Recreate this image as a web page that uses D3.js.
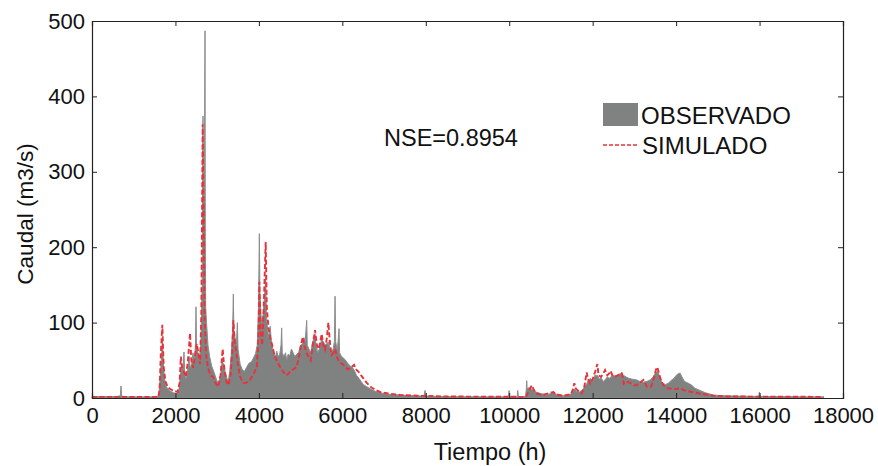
<!DOCTYPE html>
<html>
<head>
<meta charset="utf-8">
<script src="https://cdn.jsdelivr.net/npm/d3@7"></script>
<style>
  body { margin: 0; background: #fff; }
  svg text { font-family: "Liberation Sans", Arial, sans-serif; fill: #111; }
</style>
</head>
<body>
<svg id="chart" width="878" height="466"></svg>
<script>
// observed flow (hours, m3/s)
const obsHours = [0, 600, 680, 695, 710, 760, 1550, 1600, 1640, 1670, 1690, 1710, 1740, 1780, 1850, 1950, 2030, 2080, 2120, 2150, 2175, 2205, 2225, 2260, 2300, 2330, 2355, 2390, 2420, 2450, 2480, 2493, 2505, 2540, 2580, 2610, 2640, 2660, 2670, 2690, 2709, 2716, 2725, 2745, 2780, 2820, 2870, 2920, 2980, 3030, 3080, 3120, 3150, 3190, 3240, 3268, 3300, 3340, 3370, 3388, 3400, 3430, 3460, 3484, 3500, 3550, 3600, 3650, 3700, 3760, 3820, 3860, 3920, 3960, 3990, 4011, 4025, 4060, 4100, 4130, 4163, 4180, 4210, 4240, 4270, 4300, 4350, 4400, 4427, 4460, 4500, 4530, 4546, 4560, 4600, 4640, 4666, 4700, 4740, 4780, 4820, 4860, 4906, 4950, 5000, 5050, 5080, 5110, 5146, 5160, 5200, 5242, 5280, 5320, 5345, 5370, 5410, 5450, 5480, 5505, 5540, 5585, 5620, 5665, 5700, 5740, 5780, 5810, 5825, 5840, 5880, 5921, 5935, 5980, 6025, 6080, 6140, 6200, 6250, 6300, 6340, 6400, 6450, 6500, 6585, 6680, 6784, 6903, 7100, 7383, 7700, 7960, 7982, 8000, 8400, 9000, 9980, 9996, 10010, 10190, 10204, 10220, 10390, 10410, 10419, 10430, 10480, 10530, 10580, 10640, 10750, 10900, 11000, 11058, 11120, 11250, 11400, 11500, 11560, 11600, 11680, 11737, 11800, 11857, 11900, 11950, 12000, 12050, 12113, 12160, 12200, 12250, 12297, 12350, 12400, 12432, 12480, 12550, 12620, 12696, 12740, 12800, 12870, 12950, 13055, 13130, 13215, 13300, 13380, 13450, 13500, 13551, 13600, 13650, 13695, 13750, 13820, 13895, 13950, 14000, 14050, 14094, 14140, 14200, 14280, 14374, 14450, 14574, 14700, 14894, 15100, 15500, 15980, 15996, 16010, 16500, 17000, 17530];
const obsFlow = [2, 2, 3, 16, 3, 1.5, 1.5, 4, 30, 60, 80, 45, 25, 15, 10, 7, 6, 10, 30, 45, 35, 61, 30, 25, 40, 55, 40, 45, 60, 50, 70, 121, 70, 60, 50, 75, 150, 374, 300, 260, 487, 214, 120, 100, 70, 55, 42, 35, 25, 19, 30, 48, 45, 35, 25, 23, 35, 60, 90, 138, 90, 80, 70, 100, 65, 45, 38, 35, 40, 46, 48, 52, 59, 70, 120, 218, 140, 100, 110, 130, 160, 110, 90, 80, 95, 75, 60, 55, 62, 55, 58, 70, 93, 60, 55, 60, 50, 58, 56, 65, 60, 55, 58, 60, 70, 72, 80, 75, 103, 70, 65, 60, 72, 80, 85, 70, 60, 65, 72, 78, 75, 70, 72, 74, 66, 60, 65, 75, 135, 75, 62, 92, 60, 55, 53, 50, 45, 42, 40, 35, 30, 26, 22, 18, 15, 12, 9, 7, 5, 4, 3, 2.5, 10, 2.5, 2, 1.5, 1.5, 10, 1.5, 1.5, 10, 1.5, 2, 12, 23, 12, 14, 12, 10, 8, 6, 4, 6, 8, 5, 3, 3, 6, 12, 9, 8, 10, 14, 19, 24, 26, 22, 30, 30, 25, 27, 22, 24, 28, 26, 28, 30, 29, 31, 33, 30, 28, 26, 25, 24, 22, 21, 22, 24, 28, 33, 35, 30, 22, 19, 18, 20, 24, 26, 30, 32, 33, 28, 22, 20, 17, 13, 10, 7, 4, 3, 2.5, 2, 8, 2, 2, 1.5, 1.5];

// simulated flow (hours, m3/s)
const simHours = [0, 1590, 1620, 1650, 1686, 1700, 1720, 1760, 1820, 1900, 1950, 2050, 2100, 2130, 2160, 2200, 2250, 2300, 2350, 2380, 2420, 2470, 2510, 2550, 2590, 2620, 2653, 2675, 2700, 2730, 2780, 2840, 2904, 2960, 3025, 3080, 3132, 3170, 3220, 3268, 3320, 3360, 3388, 3420, 3460, 3500, 3550, 3628, 3700, 3787, 3850, 3900, 3950, 3990, 4011, 4040, 4080, 4110, 4163, 4190, 4230, 4270, 4320, 4380, 4427, 4470, 4520, 4580, 4666, 4750, 4820, 4906, 4960, 5010, 5050, 5090, 5140, 5190, 5242, 5290, 5345, 5390, 5440, 5505, 5545, 5585, 5630, 5665, 5700, 5740, 5790, 5830, 5870, 5920, 5970, 6025, 6080, 6140, 6200, 6280, 6330, 6400, 6450, 6520, 6585, 6700, 6784, 6903, 7100, 7383, 7800, 8500, 10400, 10480, 10539, 10580, 10640, 10800, 11000, 11058, 11120, 11300, 11480, 11530, 11561, 11600, 11737, 11800, 11857, 11890, 11940, 12000, 12060, 12113, 12140, 12200, 12250, 12297, 12350, 12400, 12432, 12470, 12520, 12600, 12696, 12720, 12745, 12800, 12900, 13000, 13055, 13120, 13215, 13300, 13400, 13460, 13520, 13551, 13600, 13650, 13695, 13800, 13895, 14000, 14094, 14200, 14374, 14574, 14894, 15200, 17530];
const simFlow = [1.5, 1.5, 10, 60, 97, 70, 40, 22, 14, 11, 10, 8, 20, 55, 40, 35, 28, 50, 86, 50, 40, 55, 72, 60, 45, 110, 363, 250, 110, 60, 40, 30, 28, 20, 15, 30, 65, 40, 22, 17, 30, 60, 103, 75, 60, 45, 28, 20, 20, 24, 30, 35, 41, 80, 154, 90, 70, 110, 207, 120, 93, 80, 70, 55, 50, 45, 40, 35, 30, 35, 38, 41, 55, 70, 81, 70, 60, 55, 50, 70, 90, 70, 65, 85, 70, 64, 80, 100, 75, 57, 60, 65, 55, 48, 46, 44, 40, 38, 40, 44, 38, 34, 30, 25, 20, 14, 11, 8, 6, 4, 3, 2, 1.5, 10, 17, 12, 6, 4, 7, 8, 5, 3, 5, 12, 19.5, 12, 6, 15, 34, 25, 19, 25, 35, 45, 30, 28, 32, 37, 30, 33, 36, 30, 28, 30, 33, 28, 19, 22, 20, 17, 17, 20, 24, 15, 15, 25, 38, 41, 30, 22, 17, 13, 12, 12, 13, 10, 8, 6, 3, 2, 1.5];

const xTicks = [0, 2000, 4000, 6000, 8000, 10000, 12000, 14000, 16000, 18000];
const yTicks = [0, 100, 200, 300, 400, 500];

const svg = d3.select("#chart");
const margin = { left: 92, top: 21, right: 878 - 843, bottom: 466 - 398 };
const width = 878 - margin.left - margin.right,
    height = 466 - margin.top - margin.bottom;

const x = d3.scaleLinear().domain([0, 18000]).range([0, width]);
const y = d3.scaleLinear().domain([0, 500]).range([height, 0]);

const g = svg.append("g").attr("transform", `translate(${margin.left},${margin.top})`);

const obs = obsHours.map((h, i) => ({ h: h, q: obsFlow[i] }));
const sim = simHours.map((h, i) => ({ h: h, q: simFlow[i] }));

// observed as filled area (thin edge so narrow spikes still show)
g.append("path")
    .datum(obs)
    .attr("fill", "#808282")
    .attr("stroke", "#8c8e8e")
    .attr("stroke-width", 1)
    .attr("stroke-linejoin", "round")
    .attr("d", d3.area().x(d => x(d.h)).y0(y(0)).y1(d => y(d.q)));

// simulated as dashed red line
g.append("path")
    .datum(sim)
    .attr("fill", "none")
    .attr("stroke", "#e8323a")
    .attr("stroke-width", 1.9)
    .attr("stroke-dasharray", "5,2.5")
    .attr("d", d3.line().x(d => x(d.h)).y(d => y(d.q)));

// axes with inward ticks (box style)
const ax = d3.axisBottom(x).tickValues(xTicks).tickSize(-5).tickPadding(9).tickFormat(d3.format("d"));
const ay = d3.axisLeft(y).tickValues(yTicks).tickSize(-5).tickPadding(7);
const axTop = d3.axisTop(x).tickValues(xTicks).tickSize(-5).tickFormat("");
const ayRight = d3.axisRight(y).tickValues(yTicks).tickSize(-5).tickFormat("");

g.append("g").attr("transform", `translate(0,${height})`).call(ax);
g.append("g").call(ay);
g.append("g").call(axTop);
g.append("g").attr("transform", `translate(${width},0)`).call(ayRight);

g.selectAll(".domain").attr("stroke", "#222").attr("stroke-width", 1.2);
g.selectAll(".tick line").attr("stroke", "#222");
g.selectAll(".tick text").attr("font-size", "22px").attr("fill", "#111");

// axis titles
svg.append("text")
    .attr("x", 490)
    .attr("y", 460)
    .attr("text-anchor", "middle")
    .attr("font-size", "23.5px")
    .text("Tiempo (h)");

svg.append("text")
    .attr("transform", "translate(33,214) rotate(-90)")
    .attr("text-anchor", "middle")
    .attr("font-size", "22.5px")
    .text("Caudal (m3/s)");

// NSE note
svg.append("text")
    .attr("x", 384)
    .attr("y", 146)
    .attr("font-size", "23.5px")
    .text("NSE=0.8954");

// legend
const leg = svg.append("g");
leg.append("rect").attr("x", 603).attr("y", 103).attr("width", 35).attr("height", 23).attr("fill", "#808282");
leg.append("text").attr("x", 641).attr("y", 124).attr("font-size", "24px").text("OBSERVADO");
leg.append("line").attr("x1", 603).attr("x2", 637).attr("y1", 145).attr("y2", 145)
    .attr("stroke", "#e8323a").attr("stroke-width", 1.6).attr("stroke-dasharray", "4,2");
leg.append("text").attr("x", 642).attr("y", 154).attr("font-size", "24px").text("SIMULADO");
</script>
</body>
</html>
